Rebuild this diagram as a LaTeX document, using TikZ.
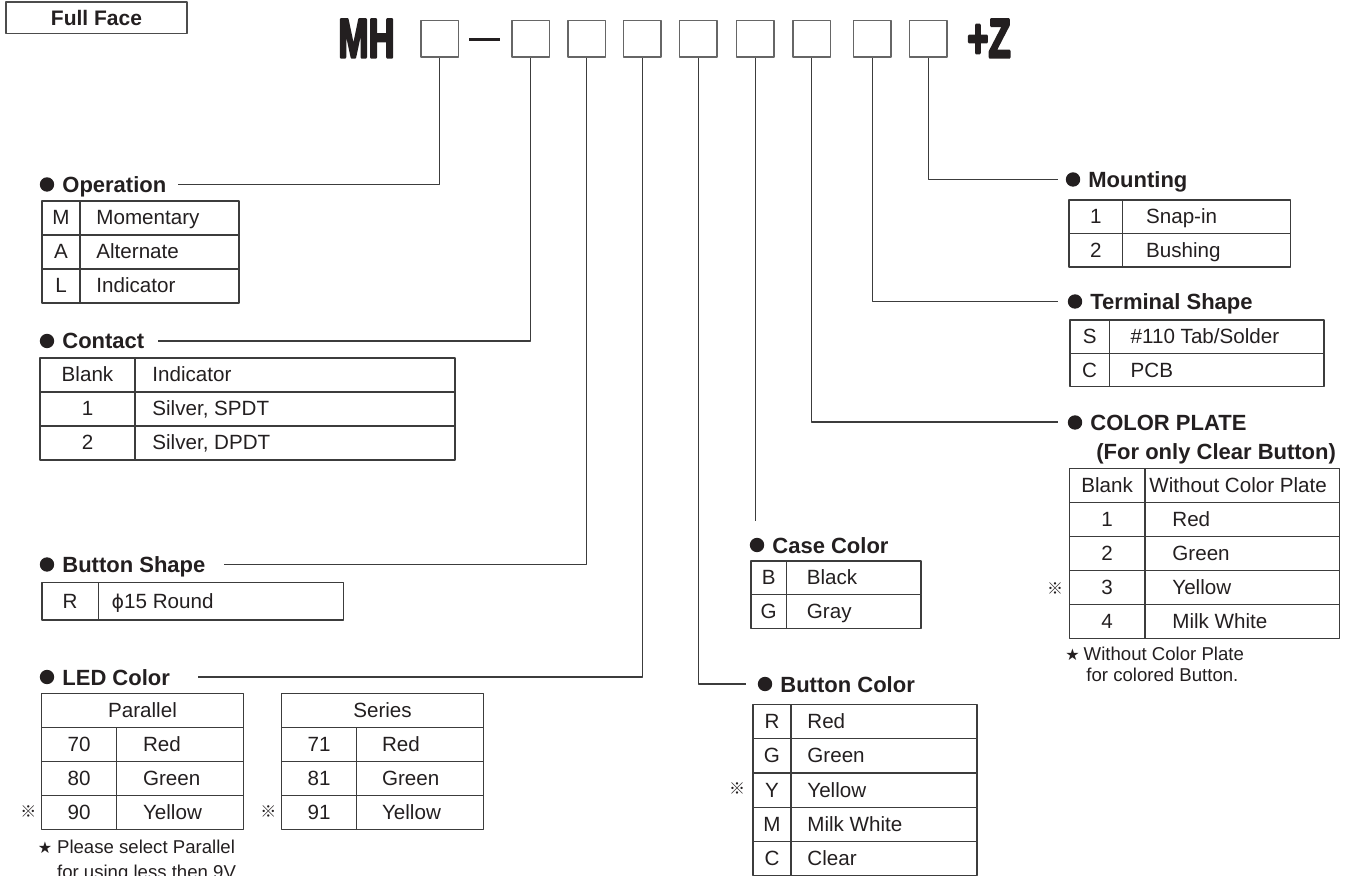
\documentclass[tikz,border=0pt]{standalone}
\usepackage{fontspec}
\usepackage{graphicx}
\setmainfont{Liberation Sans}
\newfontfamily\heavyfont[BoldFeatures={FakeBold=5}]{Liberation Sans}
\newfontfamily\cjkfont{Noto Sans CJK JP}
\newfontfamily\symbfont{DejaVu Sans}
\usetikzlibrary{positioning}
\definecolor{ink}{HTML}{231F20}
\definecolor{linegray}{HTML}{3C3C3C}
\begin{document}
\begin{tikzpicture}[x=0.5pt,y=-0.5pt,line join=round,
  tabline/.style={draw=linegray,line width=0.6pt},
  leader/.style={draw=linegray,line width=0.6pt},
  codebox/.style={draw=black!60,line width=0.8pt,minimum width=18.8pt,minimum height=18.3pt,inner sep=0pt},
  head/.style={font=\fontsize{11}{13}\selectfont\bfseries,text=ink,inner sep=0pt,anchor=base west},
  cell/.style={font=\fontsize{10.3}{12}\selectfont,text=ink,inner sep=0pt,anchor=base},
  note/.style={font=\fontsize{9.3}{11}\selectfont,text=ink,inner sep=0pt,anchor=mid west},
  refmark/.style={font=\cjkfont\fontsize{8}{9}\selectfont,text=ink,inner sep=0pt},
  starmark/.style={font=\symbfont\fontsize{8}{9}\selectfont,text=ink,inner sep=0pt},
  bigcode/.style={font=\heavyfont\fontsize{27.5}{30}\selectfont\bfseries,text=ink,inner sep=0pt,anchor=base}]
\useasboundingbox (0,0) rectangle (1354,876);
\def\bullethead#1#2#3#4{\fill[ink] (#2,#3) circle (3.6pt); \node[head] (#1) at (#2+15,#3+8) {#4};}
\def\codetable#1#2#3#4#5#6#7#8{%
  \foreach \k/\v [count=\n] in {#8}{
    \draw[tabline] (#2,{#5+(\n-1)*#6}) rectangle (#4,{#5+\n*#6});
    \draw[tabline] (#3,{#5+(\n-1)*#6}) -- (#3,{#5+\n*#6});
    \node[cell] (#1-k\n) at ({(#2+#3)/2},{#5+(\n-0.5)*#6+7}) {\k};
    \node[cell,anchor=base west] (#1-v\n) at ({#3+#7},{#5+(\n-0.5)*#6+7}) {\v};
  }}

\node[draw=black!70,line width=0.7pt,minimum width=90.5pt,minimum height=15.7pt,inner sep=0pt,
  font=\fontsize{10.5}{12}\selectfont\bfseries,text=ink] (fullface) at (96.5,17.7) {Full Face};

\node[bigcode] (mh) at (366.5,57.3) {\scalebox{0.66}[1]{MH}};
\node[bigcode] (plusz) at (989,57.3) {\scalebox{0.66}[1]{+Z}};
\draw[ink,line width=1.7pt] (469,39.3) -- (500,39.3);
\foreach \i/\x in {1/439.5,2/530.5,3/586.7,4/642.2,5/698.3,6/755.2,7/811.7,8/872.3,9/928.3}
  \node[codebox] (b\i) at (\x,39) {};

\bullethead{hop}{47}{184.5}{Operation}
\bullethead{hct}{47}{341}{Contact}
\bullethead{hbs}{47}{564.5}{Button Shape}
\bullethead{hled}{47}{677}{LED Color}
\bullethead{hbc}{765}{684}{Button Color}
\bullethead{hcc}{757}{545}{Case Color}
\bullethead{hcp}{1075}{422.5}{COLOR PLATE}
\node[head] (hcp2) at (1096,459.7) {(For only Clear Button)};
\bullethead{hts}{1075}{301.5}{Terminal Shape}
\bullethead{hmt}{1073}{179.5}{Mounting}

\path
(178,184.5) coordinate (eop)
(158,341) coordinate (ect)
(224,564.5) coordinate (ebs)
(198,677) coordinate (eled)
(745.7,684) coordinate (ebc)
(755.2,521) coordinate (ecc)
(1058,422) coordinate (ecp)
(1058,301.5) coordinate (ets)
(1058,179.5) coordinate (emt)
;
\foreach \b/\e in {1/eop,2/ect,3/ebs,4/eled,5/ebc,7/ecp,8/ets,9/emt}
  \draw[leader] (b\b.south) |- (\e);
\draw[leader] (b6.south) -- (ecc);

\codetable{op}{42}{80}{239}{201}{34}{16}{M/Momentary,A/Alternate,L/Indicator}
\codetable{ct}{40}{135}{455}{358}{34}{17}{Blank/Indicator,1/{Silver, SPDT},2/{Silver, DPDT}}
\codetable{bs}{42}{98.3}{343.3}{582.7}{37.3}{13}{R/{{\symbfont\fontsize{9.5}{11}\selectfont ϕ}15 Round}}

\draw[tabline] (41.7,693.3) rectangle (243.3,727.3);
\node[cell] (par) at (142.5,717.3) {Parallel};
\codetable{pl}{41.7}{116.7}{243.3}{727.3}{34}{26}{70/Red,80/Green,90/Yellow}
\draw[tabline] (281.7,693.3) rectangle (483.3,727.3);
\node[cell] (ser) at (382.5,717.3) {Series};
\codetable{sr}{281.7}{356.7}{483.3}{727.3}{34}{25}{71/Red,81/Green,91/Yellow}

\codetable{cc}{751}{786.5}{921}{561}{33.7}{20}{B/Black,G/Gray}
\codetable{bc}{753}{791}{977}{704.3}{34.3}{16}{R/Red,G/Green,Y/Yellow,M/Milk White,C/Clear}
\codetable{cp}{1069.3}{1145}{1339.3}{468.3}{34}{4}{Blank/Without Color Plate}
\codetable{cpc}{1069.3}{1145}{1339.3}{502.3}{34}{27}{1/Red,2/Green,3/Yellow,4/Milk White}
\codetable{ts}{1070}{1109.3}{1324}{320}{33.4}{21}{S/{\#110 Tab/Solder},C/PCB}
\codetable{mt}{1069}{1122.7}{1290.3}{200}{33.5}{23}{1/Snap-in,2/Bushing}

\foreach \r/\x/\y in {r1/28.3/811.7,r2/268.3/811.7,r3/737/788.3,r4/1055/588.3}
  \node[refmark] (\r) at (\x,\y) {※};

\node[starmark] (st1) at (45,848) {★};
\node[note] (n1) at (56.7,848) {Please select Parallel};
\node[note,anchor=base west] (n2) at (56.7,878.5) {for using less then 9V};
\node[starmark] (st2) at (1072.5,655) {★};
\node[note] (n3) at (1083.3,655) {Without Color Plate};
\node[note] (n4) at (1086,676.7) {for colored Button.};
\end{tikzpicture}
\end{document}
